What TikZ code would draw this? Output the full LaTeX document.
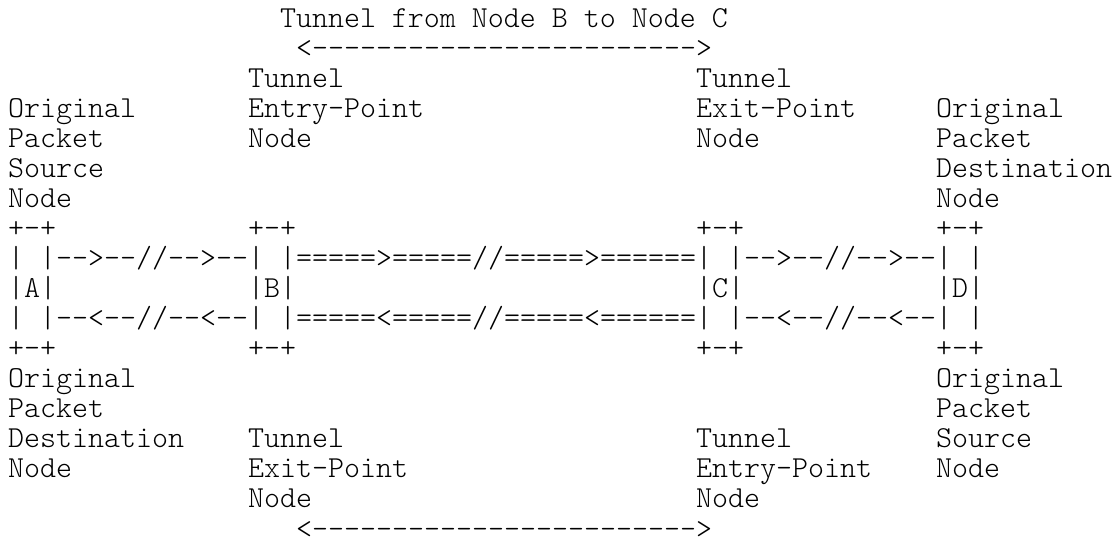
\documentclass[tikz,border=0pt]{standalone}
\usepackage{fontspec}
\setmonofont{lmmonolt10-regular.otf}
\begin{document}
\begin{tikzpicture}[x=12pt,y=-22.545pt,
  t/.style={anchor=base west,inner sep=0pt,outer sep=0pt,text=black,
    font=\ttfamily\fontsize{22.857pt}{26pt}\selectfont}]
% canvas: 1116x540 px at 0.75pt/px; origin = column 0, baseline of row 1
\path[fill=white,use as bounding box] (-6pt,20.25pt) rectangle (831pt,-384.75pt);
% top: tunnel span B->C
\node[t] (title) at (17,0) {Tunnel from Node B to Node C};
\node[t] (spantop) at (18,1) {<------------------------>};
% labels above
\node[t] (tB1) at (15,2) {Tunnel};
\node[t] (tC1) at (43,2) {Tunnel};
\node[t] (lA1) at (0,3) {Original};
\node[t] (tB2) at (15,3) {Entry-Point};
\node[t] (tC2) at (43,3) {Exit-Point};
\node[t] (lD1) at (58,3) {Original};
\node[t] (lA2) at (0,4) {Packet};
\node[t] (tB3) at (15,4) {Node};
\node[t] (tC3) at (43,4) {Node};
\node[t] (lD2) at (58,4) {Packet};
\node[t] (lA3) at (0,5) {Source};
\node[t] (lD3) at (58,5) {Destination};
\node[t] (lA4) at (0,6) {Node};
\node[t] (lD4) at (58,6) {Node};
% boxes: top edges
\node[t] (Atop) at (0,7) {+-+};
\node[t] (Btop) at (15,7) {+-+};
\node[t] (Ctop) at (43,7) {+-+};
\node[t] (Dtop) at (58,7) {+-+};
% forward row
\node[t] (A1) at (0,8) {| |};
\node[t] (ab1) at (3,8) {-->--//-->--};
\node[t] (B1) at (15,8) {| |};
\node[t] (bc1) at (18,8) {=====>=====//=====>======};
\node[t] (C1) at (43,8) {| |};
\node[t] (cd1) at (46,8) {-->--//-->--};
\node[t] (D1) at (58,8) {| |};
% names
\node[t] (A) at (0,9) {|A|};
\node[t] (B) at (15,9) {|B|};
\node[t] (C) at (43,9) {|C|};
\node[t] (D) at (58,9) {|D|};
% backward row
\node[t] (A3) at (0,10) {| |};
\node[t] (ab3) at (3,10) {--<--//--<--};
\node[t] (B3) at (15,10) {| |};
\node[t] (bc3) at (18,10) {=====<=====//=====<======};
\node[t] (C3) at (43,10) {| |};
\node[t] (cd3) at (46,10) {--<--//--<--};
\node[t] (D3) at (58,10) {| |};
% boxes: bottom edges
\node[t] (Abot) at (0,11) {+-+};
\node[t] (Bbot) at (15,11) {+-+};
\node[t] (Cbot) at (43,11) {+-+};
\node[t] (Dbot) at (58,11) {+-+};
% labels below
\node[t] (bA1) at (0,12) {Original};
\node[t] (bD1) at (58,12) {Original};
\node[t] (bA2) at (0,13) {Packet};
\node[t] (bD2) at (58,13) {Packet};
\node[t] (bA3) at (0,14) {Destination};
\node[t] (uB1) at (15,14) {Tunnel};
\node[t] (uC1) at (43,14) {Tunnel};
\node[t] (bD3) at (58,14) {Source};
\node[t] (bA4) at (0,15) {Node};
\node[t] (uB2) at (15,15) {Exit-Point};
\node[t] (uC2) at (43,15) {Entry-Point};
\node[t] (bD4) at (58,15) {Node};
\node[t] (uB3) at (15,16) {Node};
\node[t] (uC3) at (43,16) {Node};
% bottom span
\node[t] (spanbot) at (18,17) {<------------------------>};
\end{tikzpicture}
\end{document}
